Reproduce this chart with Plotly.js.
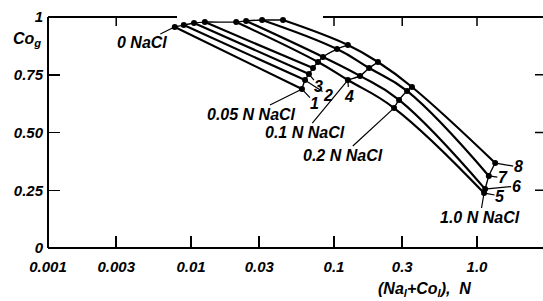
<!DOCTYPE html>
<html><head><meta charset="utf-8">
<script src="https://cdn.plot.ly/plotly-3.0.1.min.js"></script>
<style>html,body{margin:0;padding:0;background:#fff}#c{width:543px;height:301px}</style>
</head><body><div id="c"></div>
<script>
// curve labels
const curveLabels = ['1','2','3','4','5','6','7','8'];
// NaCl levels
const naclLabels = ['0 NaCl','0.05 N NaCl','0.1 N NaCl','0.2 N NaCl','1.0 N NaCl'];
// points at 0 NaCl (curves 1..8)
const x0 = [0.0077, 0.0089, 0.0105, 0.0125, 0.0207, 0.0243, 0.0314, 0.044];
const y0 = [0.957, 0.965, 0.974, 0.978, 0.978, 0.983, 0.987, 0.987];
// points at 0.05 N NaCl (curves 1..8)
const x005 = [0.0597, 0.0627, 0.0668, 0.0713, 0.0773, 0.0838, 0.105, 0.125];
const y005 = [0.688, 0.727, 0.753, 0.779, 0.805, 0.827, 0.861, 0.879];
// points at 0.1 N NaCl (curves 5..8)
const x01 = [0.125, 0.152, 0.176, 0.203];
const y01 = [0.727, 0.745, 0.779, 0.805];
// points at 0.2 N NaCl (curves 5..8)
const x02 = [0.263, 0.285, 0.324, 0.351];
const y02 = [0.606, 0.641, 0.680, 0.697];
// points at 1.0 N NaCl (curves 5..8)
const x10 = [1.12, 1.14, 1.21, 1.34];
const y10 = [0.238, 0.255, 0.312, 0.368];
// axis ticks
const xTicks = [0.001, 0.003, 0.01, 0.03, 0.1, 0.3, 1];
const xTickText = ['0.001','0.003','0.01','0.03','0.1','0.3','1.0'];
const yTicks = [0, 0.25, 0.5, 0.75, 1];
const yTickText = ['0','0.25','0.50','0.75','1'];
const xTopTicks = [0.003, 0.1, 0.3, 1];
const yRightTicks = [0.25, 0.5, 0.75];

const F = {family:'Liberation Sans, Arial, sans-serif', size:15, color:'#000', style:'italic', weight:'bold'};
const traces = [];
// main curves
for (let i = 0; i < 8; i++) {
  const xs = [x0[i], x005[i]], ys = [y0[i], y005[i]];
  if (i >= 4) {
    const j = i - 4;
    xs.push(x01[j], x02[j], x10[j]); ys.push(y01[j], y02[j], y10[j]);
  }
  traces.push({x: xs, y: ys, mode: 'lines+markers', name: curveLabels[i],
    line: {color: '#000', width: 2.2, shape: 'spline', smoothing: 1.2},
    marker: {color: '#000', size: 6}, showlegend: false, hoverinfo: 'skip'});
}
// iso-NaCl connecting lines
[[x0,y0],[x005,y005],[x01,y01],[x02,y02],[x10,y10]].forEach(([xs,ys],k) => {
  traces.push({x: xs, y: ys, mode: 'lines', name: naclLabels[k],
    line: {color: '#000', width: 1.4, shape: 'spline', smoothing: 0.6},
    showlegend: false, hoverinfo: 'skip'});
});

const W = 543, H = 301, ml = 48, mr = 0, mt = 17, mb = 53;
const pw = W - ml - mr, ph = H - mt - mb;
function px2paperX(p){return (p - ml)/pw;}
function px2paperY(p){return (H - mb - p)/ph;}

const ann = [];
function label(txt, x, y, ax, ay, size) {
  ann.push({text: txt, x: Math.log10(x), y: y, xref: 'x', yref: 'y', showarrow: true,
    arrowhead: 0, arrowwidth: 1.2, arrowcolor: '#000', ax: ax, ay: ay, standoff: 2,
    font: Object.assign({}, F, {size: size || 16}), borderpad: 0});
}
label(naclLabels[0], x0[0], y0[0], -33, 16);
label(naclLabels[1], x005[0], y005[0], -50, 25);
label(naclLabels[2], x01[0], y01[0], -43, 52);
label(naclLabels[3], x02[0], y02[0], -51, 47);
label(naclLabels[4], x10[0], y10[0], -4, 24);
label(curveLabels[7], x10[3], y10[3], 23, 4);
label(curveLabels[6], x10[2], y10[2], 14, 2);
label(curveLabels[5], x10[1], y10[1], 31, -3);
label(curveLabels[4], x10[0], y10[0], 16, 3);
label(curveLabels[0], x005[0], y005[0], 13, 14);
label(curveLabels[1], x005[1], y005[1], 23, 15);
label(curveLabels[2], x005[2], y005[2], 10, 12);
label(curveLabels[3], x01[0], y01[0], 1, 16);
ann.push({text: 'Co<sub>g</sub>', x: px2paperX(27), y: px2paperY(40), xref: 'paper', yref: 'paper',
  xanchor: 'center', yanchor: 'middle', showarrow: false, font: Object.assign({}, F, {size: 16})});
ann.push({text: '(Na<sub>l</sub>+Co<sub>l</sub>),  N', x: px2paperX(424), y: px2paperY(289), xref: 'paper', yref: 'paper',
  xanchor: 'center', yanchor: 'middle', showarrow: false, font: Object.assign({}, F, {size: 16})});

const frame = {color:'#000', width:2};
const shapes = [
  {type:'line', xref:'paper', yref:'paper', x0:0, x1:0, y0:0, y1:1, line:frame},
  {type:'line', xref:'paper', yref:'paper', x0:0, x1:1, y0:0, y1:0, line:frame},
  {type:'line', xref:'paper', yref:'paper', x0:0, x1:px2paperX(177), y0:1, y1:1, line:frame},
  {type:'line', xref:'paper', yref:'paper', x0:px2paperX(323), x1:1, y0:1, y1:1, line:frame}
];
// short tick marks on the top and right edges (paper coords computed from the log scale)
xTopTicks.forEach(v => { const p = (Math.log10(v) + 3) * 143 / pw;
  shapes.push({type:'line', xref:'paper', yref:'paper', x0:p, x1:p,
  y0:1, y1:1 - 9/ph, line:{color:'#000', width:1.5}}); });
yRightTicks.forEach(v => shapes.push({type:'line', xref:'paper', yref:'paper', x0:1, x1:1 - 8/pw,
  y0:v, y1:v, line:{color:'#000', width:1.5}}));

const xr = [-3, -3 + pw/143];
const layout = {
  width: W, height: H, margin: {l: ml, r: mr, t: mt, b: mb, pad: 0},
  paper_bgcolor: '#fff', plot_bgcolor: '#fff', showlegend: false,
  font: F,
  xaxis: {type: 'log', range: xr, tickvals: xTicks, ticktext: xTickText, ticks: 'inside', ticklen: 12,
    tickwidth: 1.5, tickcolor: '#000', showline: false, showgrid: false, zeroline: false,
    tickfont: F, ticklabelstandoff: 8},
  yaxis: {range: [0, 1], tickvals: yTicks, ticktext: yTickText, ticks: 'inside', ticklen: 12,
    tickwidth: 1.5, tickcolor: '#000', showline: false, showgrid: false, zeroline: false,
    tickfont: F, ticklabelstandoff: 4},
  annotations: ann, shapes: shapes
};
Plotly.newPlot('c', traces, layout, {staticPlot: true, displayModeBar: false});
</script></body></html>
